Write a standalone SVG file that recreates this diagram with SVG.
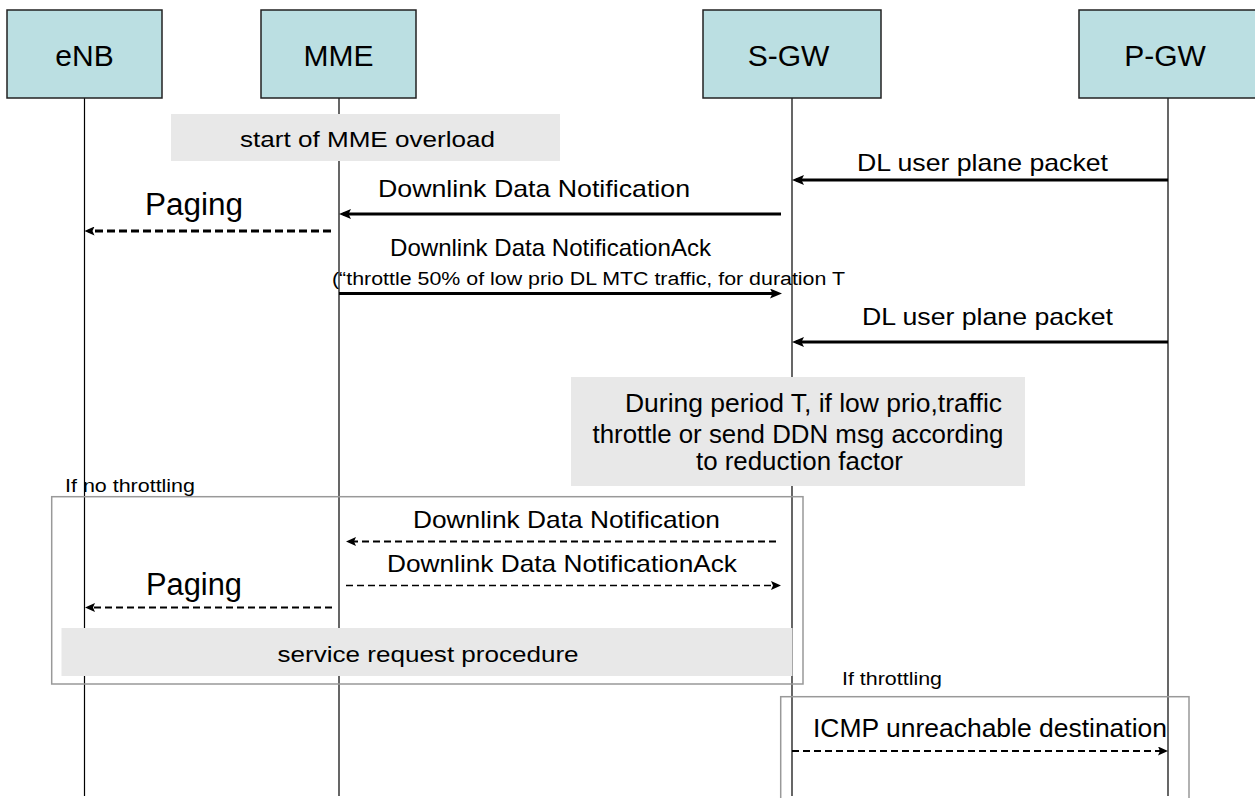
<svg xmlns="http://www.w3.org/2000/svg" width="1255" height="798" viewBox="0 0 1255 798">
  <style>
    text { font-family: "Liberation Sans", Arial, sans-serif; fill: #000; }
    .head { fill: #BBDFE2; stroke: #222; stroke-width: 1.5; }
    .head-label { font-size: 30px; text-anchor: middle; }
    .life { stroke: #000; stroke-width: 1.2; }
    .note { fill: #E8E8E8; stroke: none; }
    .frame { fill: none; stroke: #999; stroke-width: 1.5; }
    .msg { stroke: #000; stroke-width: 3; fill: none; marker-end: url(#arrow); }
    .msg-dash { stroke: #000; stroke-width: 2; fill: none; stroke-dasharray: 7 4; marker-end: url(#arrow-small); }
    .lbl { font-size: 24px; }
    .big { font-size: 31px; }
    .small { font-size: 18px; }
  </style>
  <defs>
    <marker id="arrow" markerUnits="userSpaceOnUse" markerWidth="12" markerHeight="10" refX="8" refY="5" orient="auto">
      <path d="M0,0 L12,5 L0,10 L2.5,5 Z" fill="#000"/>
    </marker>
    <marker id="arrow-small" markerUnits="userSpaceOnUse" markerWidth="10" markerHeight="9" refX="6" refY="4.5" orient="auto">
      <path d="M0,0 L10,4.5 L0,9 L2,4.5 Z" fill="#000"/>
    </marker>
  </defs>

  <rect width="1255" height="798" fill="#fff"/>

  <!-- lifelines -->
  <g id="lifelines">
    <line class="life" x1="84.5" y1="98" x2="84.5" y2="796"/>
    <line class="life" x1="339" y1="98" x2="339" y2="796"/>
    <line class="life" x1="792" y1="98" x2="792" y2="796"/>
    <line class="life" x1="1168" y1="98" x2="1168" y2="796"/>
  </g>

  <!-- participants -->
  <g id="eNB">
    <rect class="head" x="7" y="10" width="155" height="88"/>
    <text class="head-label" x="84.5" y="66">eNB</text>
  </g>
  <g id="MME">
    <rect class="head" x="261" y="10" width="155" height="88"/>
    <text class="head-label" x="338.5" y="66">MME</text>
  </g>
  <g id="S-GW">
    <rect class="head" x="703" y="10" width="178" height="88"/>
    <text class="head-label" x="788.5" y="66">S-GW</text>
  </g>
  <g id="P-GW">
    <rect class="head" x="1079" y="10" width="185" height="88"/>
    <text class="head-label" x="1165" y="66">P-GW</text>
  </g>

  <!-- notes -->
  <g id="note-overload">
    <rect class="note" x="171" y="114" width="389" height="47"/>
    <text x="240" y="147" font-size="22" textLength="255" lengthAdjust="spacingAndGlyphs">start of MME overload</text>
  </g>
  <g id="note-period">
    <rect class="note" x="571" y="377" width="454" height="109"/>
    <text x="625" y="412" font-size="25" textLength="377" lengthAdjust="spacingAndGlyphs">During period T, if low prio,traffic</text>
    <text x="592.5" y="443" font-size="25" textLength="411" lengthAdjust="spacingAndGlyphs">throttle or send DDN msg according</text>
    <text x="696" y="470" font-size="25" textLength="207" lengthAdjust="spacingAndGlyphs">to reduction factor</text>
  </g>
  <g id="note-service-request">
    <rect class="note" x="61.5" y="628" width="731" height="48"/>
    <text x="277.6" y="662" font-size="22" textLength="301" lengthAdjust="spacingAndGlyphs">service request procedure</text>
  </g>

  <!-- alternative frames -->
  <g id="frame-no-throttling">
    <rect class="frame" x="51.7" y="496.7" width="751.3" height="187.3"/>
    <text class="small" x="65" y="492" textLength="130" lengthAdjust="spacingAndGlyphs">If no throttling</text>
  </g>
  <g id="frame-throttling">
    <rect class="frame" x="780.7" y="696.7" width="408.3" height="120"/>
    <text class="small" x="842" y="685" textLength="100" lengthAdjust="spacingAndGlyphs">If throttling</text>
  </g>

  <!-- messages -->
  <g id="connectors">
    <line class="msg" x1="1168" y1="180" x2="796" y2="180"/>
    <line class="msg" x1="781" y1="214" x2="343" y2="214"/>
    <line class="msg-dash" x1="331" y1="231" x2="88.5" y2="231" style="stroke-width:3;stroke-dasharray:8 4"/>
    <line class="msg" x1="339" y1="293.5" x2="778" y2="293.5"/>
    <line class="msg" x1="1168" y1="342" x2="796" y2="342"/>
    <line class="msg-dash" x1="776" y1="541.5" x2="350" y2="541.5"/>
    <line class="msg-dash" x1="346" y1="585.5" x2="777" y2="585.5" style="stroke-width:1.6"/>
    <line class="msg-dash" x1="332" y1="607.5" x2="89" y2="607.5"/>
    <line class="msg-dash" x1="792" y1="751" x2="1164" y2="751"/>
  </g>

  <!-- message labels -->
  <g id="labels">
    <text class="lbl" x="857" y="171" textLength="251" lengthAdjust="spacingAndGlyphs">DL user plane packet</text>
    <text class="lbl" x="378" y="197" textLength="312" lengthAdjust="spacingAndGlyphs">Downlink Data Notification</text>
    <text class="big" x="145" y="215" textLength="98" lengthAdjust="spacingAndGlyphs">Paging</text>
    <text class="lbl" x="390" y="256" textLength="321" lengthAdjust="spacingAndGlyphs">Downlink Data NotificationAck</text>
    <text x="332" y="285" font-size="18" textLength="513" lengthAdjust="spacingAndGlyphs">(“throttle 50% of low prio DL MTC traffic, for duration T</text>
    <text class="lbl" x="862" y="325" textLength="251" lengthAdjust="spacingAndGlyphs">DL user plane packet</text>
    <text class="lbl" x="413" y="528" textLength="307" lengthAdjust="spacingAndGlyphs">Downlink Data Notification</text>
    <text class="lbl" x="387" y="572" textLength="350" lengthAdjust="spacingAndGlyphs">Downlink Data NotificationAck</text>
    <text class="big" x="146" y="595" textLength="96" lengthAdjust="spacingAndGlyphs">Paging</text>
    <text x="813" y="737" font-size="25" textLength="354" lengthAdjust="spacingAndGlyphs">ICMP unreachable destination</text>
  </g>
</svg>
